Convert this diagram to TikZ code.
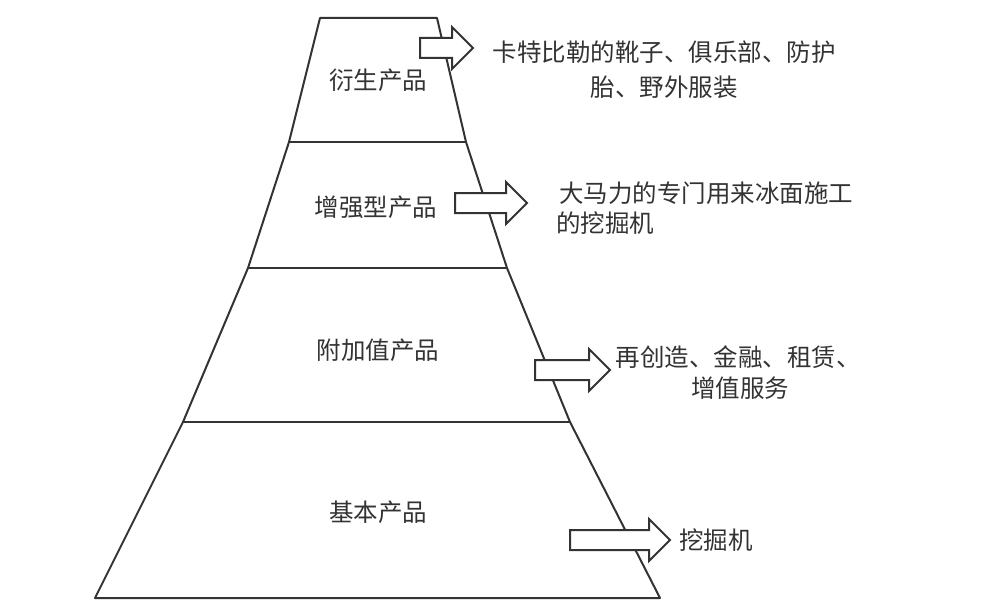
\documentclass[tikz,border=0pt]{standalone}
\usepackage{fontspec}
\setmainfont{Noto Sans CJK SC}
\usetikzlibrary{shapes.arrows}
\definecolor{ink}{HTML}{333333}

\begin{document}
\begin{tikzpicture}[x=1pt,y=-1pt,
    tier/.style={draw=ink,line width=2pt,line join=round},
    lbl/.style={text=ink,font=\fontsize{24.5}{29}\selectfont,inner sep=0pt},
    blk/.style={single arrow,draw=ink,fill=white,line width=2pt,
        inner xsep=0pt,inner ysep=9pt,text height=0pt,text depth=0pt,
        single arrow head extend=11pt,single arrow head indent=0pt}]
    \useasboundingbox (0,0) rectangle (1000,610);

    % pyramid
    \draw [tier] (320,18) -- (437,18) -- (466,142) -- (507,268) -- (570,422)
        -- (660,598) -- (95,598) -- (183,422) -- (248,268) -- (289,142) -- cycle;
    \draw [tier] (289,142) -- (466,142);
    \draw [tier] (248,268) -- (507,268);
    \draw [tier] (183,422) -- (570,422);

    \node [lbl] (DER) at (378,80)  {衍生产品};
    \node [lbl] (ENH) at (376,207) {增强型产品};
    \node [lbl] (ADD) at (378,350) {附加值产品};
    \node [lbl] (BAS) at (378,512) {基本产品};

    \node [blk,minimum height=53pt] (A1) at (441.5,48) {};
    \node [blk,minimum height=72pt] (A2) at (486,203) {};
    \node [blk,minimum height=75pt] (A3) at (567.5,370) {};
    \node [blk,minimum height=100pt] (A4) at (615,540) {};

    \node [lbl] (T1a) at (664,52)  {卡特比勒的靴子、俱乐部、防护};
    \node [lbl] (T1b) at (664,87)  {胎、野外服装};
    \node [lbl] (T2a) at (706,193) {大马力的专门用来冰面施工};
    \node [lbl,anchor=west] (T2b) at (556,223) {的挖掘机};
    \node [lbl] (T3a) at (738,357) {再创造、金融、租赁、};
    \node [lbl] (T3b) at (740,388) {增值服务};
    \node [lbl,anchor=west] (T4) at (679,540) {挖掘机};
\end{tikzpicture}
\end{document}
